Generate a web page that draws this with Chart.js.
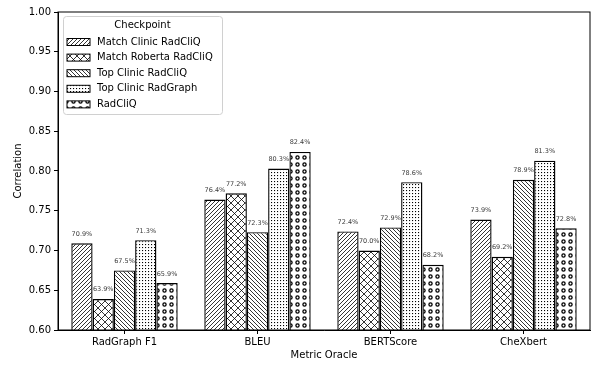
<!DOCTYPE html>
<html>
<head>
<meta charset="utf-8">
<script src="https://cdn.jsdelivr.net/npm/chart.js@4"></script>
<style>
  html, body { margin: 0; padding: 0; background: #fff; }
  #wrap { width: 596px; height: 368px; }
</style>
</head>
<body>
<div id="wrap"><canvas id="chart" width="596" height="368"></canvas></div>
<script>
  const categories = ["RadGraph F1", "BLEU", "BERTScore", "CheXbert"];
  const seriesNames = [
    "Match Clinic RadCliQ",
    "Match Roberta RadCliQ",
    "Top Clinic RadCliQ",
    "Top Clinic RadGraph",
    "RadCliQ",
  ];
  const matchClinic = [0.709, 0.764, 0.724, 0.739];
  const matchRoberta = [0.639, 0.772, 0.700, 0.692];
  const topClinic = [0.675, 0.723, 0.729, 0.789];
  const topRadGraph = [0.713, 0.803, 0.786, 0.813];
  const radCliQ = [0.659, 0.824, 0.682, 0.728];
  const yTicks = [0.6, 0.65, 0.7, 0.75, 0.8, 0.85, 0.9, 0.95, 1.0];

  const FONT = "DejaVu Sans";
  const canvas = document.getElementById("chart");
  const ctx = canvas.getContext("2d");

  // hatch tiles, white face with black strokes
  const makeTile = (size, drawFn) => {
    const c = document.createElement("canvas");
    c.width = size;
    c.height = size;
    const t = c.getContext("2d");
    t.fillStyle = "#fff";
    t.fillRect(0, 0, size, size);
    t.strokeStyle = "#000";
    t.fillStyle = "#000";
    t.lineWidth = 0.8;
    drawFn(t, size);
    return ctx.createPattern(c, "repeat");
  };

  const patterns = [
    makeTile(4, (t, s) => {
      t.beginPath();
      t.moveTo(-1, s + 1); t.lineTo(s + 1, -1);
      t.moveTo(-1, 1); t.lineTo(1, -1);
      t.moveTo(s - 1, s + 1); t.lineTo(s + 1, s - 1);
      t.stroke();
    }),
    makeTile(7, (t, s) => {
      t.beginPath();
      t.moveTo(0, 0); t.lineTo(s, s);
      t.moveTo(0, s); t.lineTo(s, 0);
      t.stroke();
    }),
    makeTile(4, (t, s) => {
      t.beginPath();
      t.moveTo(-1, -1); t.lineTo(s + 1, s + 1);
      t.moveTo(s - 1, -1); t.lineTo(s + 1, 1);
      t.moveTo(-1, s - 1); t.lineTo(1, s + 1);
      t.stroke();
    }),
    makeTile(3, (t, s) => {
      t.fillRect(1, 1, 1.1, 1.1);
    }),
    makeTile(7, (t, s) => {
      t.lineWidth = 1.3;
      t.beginPath();
      t.arc(3.5, 3.5, 1.6, 0, Math.PI * 2);
      t.stroke();
    }),
  ];

  const seriesData = [matchClinic, matchRoberta, topClinic, topRadGraph, radCliQ];

  const datasets = seriesNames.map((name, i) => ({
    label: name,
    data: seriesData[i],
    backgroundColor: patterns[i],
    borderColor: "#000",
    borderWidth: 1.4,
    borderSkipped: false,
    categoryPercentage: 0.8,
    barPercentage: 1.0,
  }));

  const valueLabels = {
    id: "valueLabels",
    afterDatasetsDraw(chart) {
      const c = chart.ctx;
      c.save();
      c.font = "6.5px " + FONT;
      c.fillStyle = "#3a3a3a";
      c.textAlign = "center";
      c.textBaseline = "bottom";
      chart.data.datasets.forEach((ds, i) => {
        chart.getDatasetMeta(i).data.forEach((bar, j) => {
          c.fillText((ds.data[j] * 100).toFixed(1) + "%", bar.x, bar.y - 6);
        });
      });
      c.restore();
    },
  };

  const frameAndLegend = {
    id: "frameAndLegend",
    afterDraw(chart) {
      const c = chart.ctx;
      const a = chart.chartArea;
      c.save();
      c.strokeStyle = "#000";
      c.lineWidth = 1;
      c.strokeRect(a.left, a.top, a.right - a.left, a.bottom - a.top);

      // legend box
      const lx = a.left + 5, ly = a.top + 4, lw = 159, lh = 98;
      c.fillStyle = "rgba(255,255,255,0.85)";
      c.strokeStyle = "#d0d0d0";
      c.beginPath();
      c.roundRect(lx + 0.5, ly + 0.5, lw, lh, 3);
      c.fill();
      c.stroke();

      c.fillStyle = "#000";
      c.font = "10px " + FONT;
      c.textBaseline = "middle";
      c.textAlign = "center";
      c.fillText("Checkpoint", lx + lw / 2, ly + 9);
      c.textAlign = "left";
      seriesNames.forEach((name, i) => {
        const ry = ly + 26 + i * 15.6;
        c.fillStyle = patterns[i];
        c.fillRect(lx + 4, ry - 3.5, 23, 7);
        c.strokeStyle = "#000";
        c.lineWidth = 1;
        c.strokeRect(lx + 4, ry - 3.5, 23, 7);
        c.fillStyle = "#000";
        c.fillText(name, lx + 34, ry);
      });
      c.restore();
    },
  };

  new Chart(canvas, {
    type: "bar",
    data: { labels: categories, datasets: datasets },
    options: {
      responsive: false,
      animation: false,
      layout: { padding: { top: 12, right: 6, left: 0, bottom: 0 } },
      plugins: {
        legend: { display: false },
        tooltip: { enabled: false },
      },
      scales: {
        x: {
          afterFit: (s) => { s.height = 38; },
          grid: { display: true, drawOnChartArea: false, offset: false, tickLength: 4, color: "#000" },
          border: { color: "#000", width: 1 },
          ticks: { color: "#000", font: { family: FONT, size: 10 }, padding: 2 },
          title: { display: true, text: "Metric Oracle", color: "#000", font: { family: FONT, size: 10 }, padding: { top: 2, bottom: 7 } },
        },
        y: {
          min: 0.6,
          max: 1.0,
          afterFit: (s) => { s.width = 58; },
          afterBuildTicks: (s) => { s.ticks = yTicks.map((v) => ({ value: v })); },
          grid: { display: true, drawOnChartArea: false, tickLength: 4, color: "#000" },
          border: { color: "#000", width: 1 },
          ticks: {
            color: "#000",
            font: { family: FONT, size: 10 },
            padding: 3,
            callback: (v) => Number(v).toFixed(2),
          },
          title: { display: true, text: "Correlation", color: "#000", font: { family: FONT, size: 10 }, padding: { top: 12, bottom: 4 } },
        },
      },
    },
    plugins: [valueLabels, frameAndLegend],
  });
</script>
</body>
</html>
